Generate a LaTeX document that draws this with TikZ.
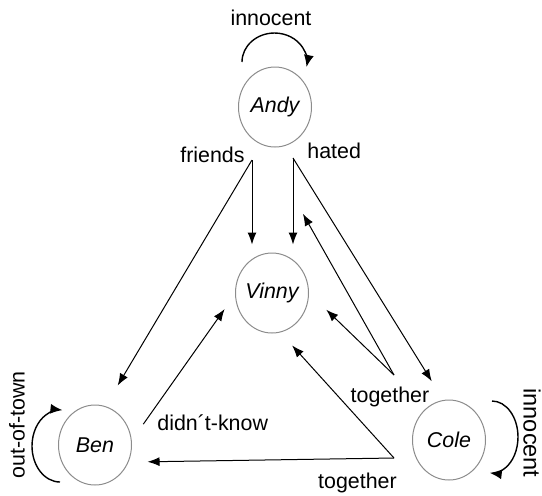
\documentclass[tikz,border=0pt]{standalone}
\usepackage{fontspec}
\setmainfont{Liberation Sans}
\usetikzlibrary{shapes.geometric, arrows.meta, positioning}
\newcommand{\tagsize}{\fontsize{10.7pt}{13pt}\selectfont}
\tikzstyle{suspect} = [ellipse, minimum width=36.5pt, minimum height=40pt, inner sep=-2pt, draw=black!45, line width=0.5pt, font=\tagsize\itshape]
\tikzstyle{arrow} = [line width=0.5pt, -{Latex[length=6pt,width=4.5pt]}]
\tikzstyle{selfloop} = [line width=0.7pt, -{Latex[length=6pt,width=5pt]}]
\tikzstyle{tag} = [inner sep=0pt, font=\tagsize]

\begin{document}
\begin{tikzpicture}[node distance=93pt]
	\useasboundingbox (0,0) rectangle (271pt,-247.5pt);

	\node (andy) [suspect] at (137.5pt,-53.5pt) {Andy};
	\node (vinny) [suspect, below of=andy, xshift=-1.5pt] {Vinny};
	\node (ben) [suspect, below of=vinny, xshift=-88.5pt, yshift=17pt] {Ben};
	\node (cole) [suspect, below of=vinny, xshift=88.5pt, yshift=19.5pt] {Cole};

	% where the forked arrows start
	\coordinate (friends) at ([shift={(-11.5pt,-26.5pt)}]andy.center);
	\coordinate (hated) at ([shift={(9pt,-25.5pt)}]andy.center);
	\coordinate (uptogether) at ([shift={(-27.5pt,32.5pt)}]cole.center);
	\coordinate (lowtogether) at ([shift={(-27.5pt,-9pt)}]cole.center);

	\draw [arrow, shorten >=4pt] (friends) -- (friends |- vinny.north);
	\draw [arrow, shorten >=12pt] (friends) -- (ben.75);
	\node [tag, anchor=base east] at ([shift={(-3.5pt,-1pt)}]friends) {friends};

	\draw [arrow, shorten >=4pt] (hated) -- (hated |- vinny.north);
	\draw [arrow, shorten >=11pt] (hated) -- (cole.98);
	\node [tag, anchor=base west] at ([shift={(7pt,0pt)}]hated) {hated};

	\draw [arrow, shorten >=12pt] (uptogether) -- (vinny.east);
	\draw [arrow, shorten >=39pt] (uptogether) -- (andy.255);
	\node [tag, anchor=base] at ([shift={(-2pt,-13.5pt)}]uptogether) {together};

	\draw [arrow, shorten >=8.75pt] (lowtogether) -- (vinny.-78);
	\draw [arrow, shorten >=9.5pt] (lowtogether) -- (ben.-27);
	\node [tag, anchor=base] at ([shift={(-18.25pt,-15pt)}]lowtogether) {together};

	\draw [arrow, shorten <=10pt, shorten >=9pt] (ben.7) -- (vinny.182);
	\node [tag, anchor=base west] at ([shift={(31pt,7.5pt)}]ben.center) {didn´t-know};

	% self loops
	\draw [selfloop] ([shift={(-16.5pt,22.5pt)}]andy.center) arc[start angle=180, end angle=-10, x radius=16.25pt, y radius=14.5pt];
	\node [tag] at ([shift={(-2pt,44.5pt)}]andy.center) {innocent};

	\draw [selfloop] ([shift={(-17.5pt,-18.5pt)}]ben.center) arc[start angle=270, end angle=85, x radius=14pt, y radius=18pt];
	\node [tag, rotate=90] at ([shift={(-39pt,10pt)}]ben.center) {out-of-town};

	\draw [selfloop] ([shift={(21.5pt,19.5pt)}]cole.center) arc[start angle=90, end angle=-95, x radius=13pt, y radius=18pt];
	\node [tag, rotate=-90, scale=1.1] at ([shift={(41.5pt,3.5pt)}]cole.center) {innocent};
\end{tikzpicture}
\end{document}
